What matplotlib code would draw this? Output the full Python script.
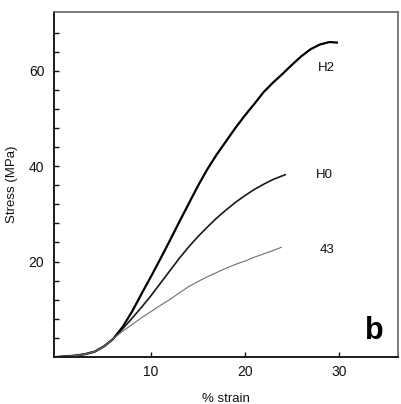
import numpy as np
import matplotlib
matplotlib.use("Agg")
import matplotlib.pyplot as plt

plt.rcParams["font.family"] = ["Liberation Sans", "DejaVu Sans"]

# values
strain_h2 = [0, 2, 3, 4, 5, 6, 7, 8, 9, 10, 11, 12, 13, 14, 15, 16, 17, 18, 19, 20,
             21, 22, 23, 24, 25, 26, 27, 28, 29, 29.8]
stress_h2 = [0, 0.3, 0.6, 1.1, 2.2, 3.8, 6.3, 9.5, 13.2, 16.8, 20.5, 24.3, 28.2, 32,
             35.8, 39.3, 42.4, 45.2, 48, 50.6, 53, 55.5, 57.5, 59.3, 61.2, 63.0,
             64.5, 65.5, 66, 65.9]

strain_h0 = [0, 2, 3, 4, 5, 6, 7, 8, 9, 10, 11, 12, 13, 14, 15, 16, 17, 18, 19, 20,
             21, 22, 23, 24.3]
stress_h0 = [0, 0.3, 0.6, 1.1, 2.2, 3.8, 5.9, 8.1, 10.4, 12.8, 15.4, 18.0, 20.6, 23.0,
             25.2, 27.2, 29.1, 30.8, 32.4, 33.8, 35.1, 36.2, 37.2, 38.2]

strain_43 = [0, 2, 3, 4, 5, 6, 7, 8, 9, 10, 11, 12, 13, 14, 15, 16, 17, 18, 19, 20,
             21, 22, 23, 23.9]
stress_43 = [0, 0.3, 0.6, 1.1, 2.2, 3.8, 5.4, 6.8, 8.2, 9.5, 10.8, 12.0, 13.4, 14.7,
             15.8, 16.8, 17.7, 18.6, 19.4, 20.1, 20.9, 21.6, 22.3, 23.0]

curve_names = ["H2", "H0", "43"]
name_pos = [(28.7, 60.5), (28.5, 38.1), (28.8, 22.4)]

x_ticks = [10, 20, 30]
y_ticks = np.arange(4, 72, 4)
y_labels = [str(v) if v in (20, 40, 60) else "" for v in y_ticks]

fig = plt.figure(figsize=(4.02, 4.04), dpi=100)
ax = fig.add_axes([54 / 402, 47 / 404, 344 / 402, 345 / 404])

ax.plot(strain_h2, stress_h2, color="black", linewidth=1.6, solid_joinstyle="round")
ax.plot(strain_h0, stress_h0, color="#1a1a1a", linewidth=1.2, solid_joinstyle="round")
ax.plot(strain_43, stress_43, color="#707070", linewidth=0.8, solid_joinstyle="round")

for name, (tx, ty) in zip(curve_names, name_pos):
    ax.text(tx, ty, name, fontsize=9.5, color="#111111", ha="center", va="center")

ax.text(33.8, 5.5, "b", fontsize=22, fontweight="bold", ha="center", va="center")

ax.set_xlim(-0.3, 36.3)
ax.set_ylim(0, 72.3)
ax.set_xticks(x_ticks)
ax.set_yticks(y_ticks)
ax.set_yticklabels(y_labels)
ax.tick_params(direction="in", length=3.5, width=1, labelsize=10, colors="#111111")
ax.tick_params(axis="y", pad=7)
ax.tick_params(axis="x", pad=6)

for side in ["left", "bottom"]:
    ax.spines[side].set_linewidth(1.4)
    ax.spines[side].set_color("#1a1a1a")
for side in ["top", "right"]:
    ax.spines[side].set_linewidth(1.2)
    ax.spines[side].set_color("#666666")

ax.set_xlabel("% strain", fontsize=9.5, color="#111111", labelpad=10)
ax.set_ylabel("Stress (MPa)", fontsize=9.5, color="#111111", labelpad=8)

fig.savefig("out.png", dpi=100, facecolor="white")
